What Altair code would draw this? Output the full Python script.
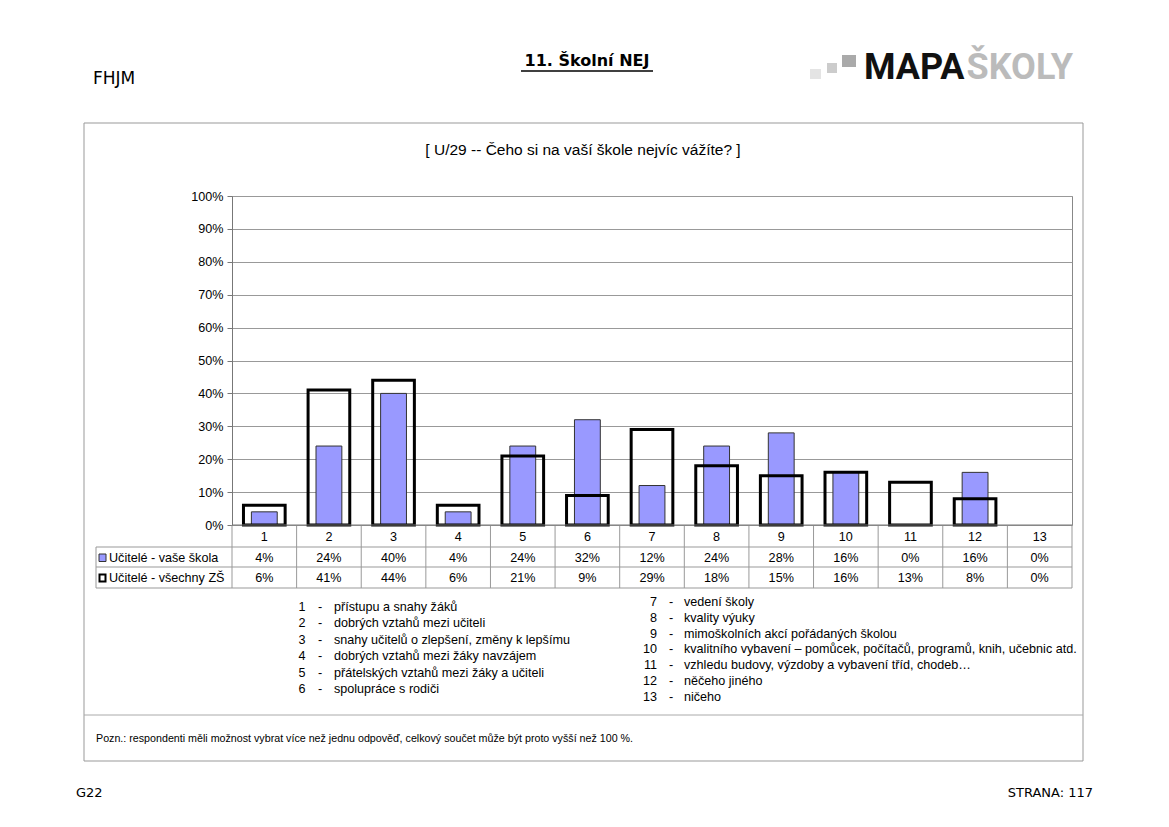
import altair as alt
import pandas as pd

# ---------------- data ----------------
categories = [str(i) for i in range(1, 14)]
school = [4, 24, 40, 4, 24, 32, 12, 24, 28, 16, 0, 16, 0]
all_zs = [6, 41, 44, 6, 21, 9, 29, 18, 15, 16, 13, 8, 0]
y_ticks = [0, 10, 20, 30, 40, 50, 60, 70, 80, 90, 100]
series_names = ["Učitelé - vaše škola", "Učitelé - všechny ZŠ"]
desc_left_nums = ["1", "2", "3", "4", "5", "6"]
desc_left = ["přístupu a snahy žáků", "dobrých vztahů mezi učiteli",
             "snahy učitelů o zlepšení, změny k lepšímu",
             "dobrých vztahů mezi žáky navzájem",
             "přátelských vztahů mezi žáky a učiteli", "spolupráce s rodiči"]
desc_right_nums = ["7", "8", "9", "10", "11", "12", "13"]
desc_right = ["vedení školy", "kvality výuky", "mimoškolních akcí pořádaných školou",
              "kvalitního vybavení – pomůcek, počítačů, programů, knih, učebnic atd.",
              "vzhledu budovy, výzdoby a vybavení tříd, chodeb…",
              "něčeho jiného", "ničeho"]
page_title = "11. Školní NEJ"
question = "[ U/29 -- Čeho si na vaší škole nejvíc vážíte? ]"
note = "Pozn.: respondenti měli možnost vybrat více než jednu odpověď, celkový součet může být proto vyšší než 100 %."

df = pd.DataFrame({"cat": categories, "school": school, "all": all_zs})
df["school_lbl"] = [f"{v}%" for v in school]
df["all_lbl"] = [f"{v}%" for v in all_zs]
one = pd.DataFrame({"k": [0]})

W, H = 840, 329
ARIAL = "Liberation Sans"
TAHOMA = "DejaVu Sans"
FS = 12.6

xscale = alt.Scale(paddingInner=0, paddingOuter=0)
xenc = alt.X("cat:N", sort=categories, axis=None, scale=xscale)
yscale = alt.Scale(domain=[0, 100])
yaxis = alt.Axis(values=y_ticks, labelExpr="datum.value + '%'", title=None,
                 grid=True, gridColor="#999999", gridWidth=1,
                 domainColor="#777777", tickColor="#777777", tickSize=5,
                 labelFont=ARIAL, labelFontSize=FS, labelColor="black",
                 labelPadding=4)


def T(text, x, y, size=FS, align="left", font=ARIAL, weight="normal", color="black"):
    return alt.Chart(one).mark_text(
        text=text, align=align, baseline="middle", font=font, fontSize=size,
        fontWeight=weight, color=color
    ).encode(x=alt.value(x), y=alt.value(y))


def R(x, x2, y, y2, fill="white", stroke="#999999", sw=1, fo=1.0):
    return alt.Chart(one).mark_rect(fill=fill, stroke=stroke, strokeWidth=sw, fillOpacity=fo).encode(
        x=alt.value(x), x2=alt.value(x2), y=alt.value(y), y2=alt.value(y2))


def HR(x, x2, y, color="#999999", sw=1):
    return alt.Chart(one).mark_rule(color=color, strokeWidth=sw).encode(
        x=alt.value(x), x2=alt.value(x2), y=alt.value(y))


layers = []

# bars
layers.append(
    alt.Chart(df).transform_filter("datum.school > 0").mark_bar(
        width=alt.RelativeBandSize(0.40), color="#9999FF",
        stroke="#333333", strokeWidth=1).encode(
        x=xenc,
        y=alt.Y("school:Q", scale=yscale, axis=yaxis),
    )
)
layers.append(
    alt.Chart(df).transform_filter("datum.all > 0").mark_bar(
        width=alt.RelativeBandSize(0.645), fillOpacity=0,
        stroke="black", strokeWidth=3).encode(
        x=xenc,
        y=alt.Y("all:Q", scale=yscale, axis=yaxis),
    )
)

# frame of the chart box
layers.append(R(-148, 851, -73, 565, fill="white", stroke="#999999", sw=1, fo=0))
layers.append(HR(-148, 851, 519, color="#aaaaaa"))

# table grid
layers.append(
    alt.Chart(df).mark_rule(color="#999999").encode(
        x=alt.X("cat:N", sort=categories, axis=None, bandPosition=0, scale=xscale),
        y=alt.value(H), y2=alt.value(392))
)
layers.append(alt.Chart(one).mark_rule(color="#999999").encode(
    x=alt.value(W), y=alt.value(H), y2=alt.value(392)))
layers.append(alt.Chart(one).mark_rule(color="#999999").encode(
    x=alt.value(-136), y=alt.value(351), y2=alt.value(392)))
layers.append(HR(0, W, H, color="#777777"))
for yy in [351, 371, 392]:
    layers.append(HR(-136, W, yy))

# table texts
for field, yy in [("cat", 340.5), ("school_lbl", 361.5), ("all_lbl", 382)]:
    layers.append(alt.Chart(df).mark_text(font=ARIAL, fontSize=FS, color="black", baseline="middle").encode(
        x=xenc, y=alt.value(yy), text=f"{field}:N"))

# table legend
layers.append(R(-133, -126, 358, 365.5, fill="#9999FF", stroke="#333333", sw=1))
layers.append(R(-132.5, -126.5, 378.5, 385.5, fill="white", stroke="black", sw=2))
layers.append(T(series_names[0], -123, 361.5))
layers.append(T(series_names[1], -123, 382))

# description lists
for nums, txts, start, step, nx, nalign, dx, tx in [
        (desc_left_nums, desc_left, 410.5, 16.5, 70, "center", 88, 102),
        (desc_right_nums, desc_right, 405.7, 15.9, 425, "right", 439, 452)]:
    for i, (n, t) in enumerate(zip(nums, txts)):
        yy = start + i * step
        layers.append(T(n, nx, yy, align=nalign))
        layers.append(T("-", dx, yy, align="center"))
        layers.append(T(t, tx, yy))

# titles and page texts
layers.append(T(question, 351, -46, size=15.5, align="center"))
layers.append(T(note, -136, 543, size=10.7))
layers.append(T(page_title, 355, -135, size=16, align="center", weight="bold", font=TAHOMA))
layers.append(HR(289, 421, -125, color="black", sw=1.5))
layers.append(T("FHJM", -139, -117, size=17, font=TAHOMA))
layers.append(T("G22", -156, 597, size=13, font=TAHOMA))
layers.append(T("STRANA: 117", 861, 597, size=13, font=TAHOMA, align="right"))

# logo
layers.append(R(578, 589, -127, -117, fill="#e4e4e4", stroke="#e4e4e4", sw=0))
layers.append(R(595, 605, -133, -123, fill="#cccccc", stroke="#cccccc", sw=0))
layers.append(R(610, 624, -141, -129, fill="#aaaaaa", stroke="#aaaaaa", sw=0))
layers.append(T("MAPA", 632, -128, size=36, font="Roboto", weight="bold", color="#111111"))
layers.append(T("ŠKOLY", 841, -128, size=36, font="Roboto", weight="bold", color="#bbbbbb", align="right"))

chart = alt.layer(*layers).properties(
    width=W, height=H,
    autosize=alt.AutoSizeParams(type="none"),
    padding={"left": 224, "top": 188, "right": 80, "bottom": 280},
    background="white",
).configure_view(stroke="#888888")

chart.save("out.html", embed_options={"renderer": "svg", "actions": False})
